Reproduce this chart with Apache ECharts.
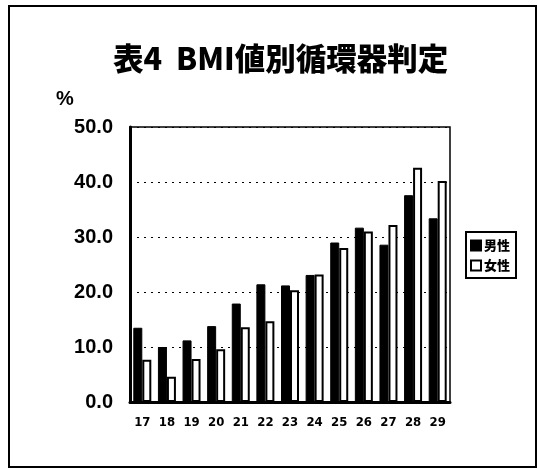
<!DOCTYPE html>
<html>
<head>
<meta charset="utf-8">
<script src="https://cdn.jsdelivr.net/npm/echarts@6/dist/echarts.min.js"></script>
<style>
  html, body { margin: 0; padding: 0; background: #fff; }
  #chart { width: 538px; height: 469px; }
</style>
</head>
<body>
<div id="chart"></div>
<script>
// BMI categories and percentage of cardiovascular findings by sex
const bmiLabels = ['17', '18', '19', '20', '21', '22', '23', '24', '25', '26', '27', '28', '29'];
const maleValues = [13.5, 10.0, 11.2, 13.8, 17.9, 21.4, 21.2, 23.1, 29.0, 31.7, 28.6, 37.6, 33.4];
const femaleValues = [7.7, 4.6, 7.8, 9.6, 13.6, 14.7, 20.3, 23.2, 28.0, 31.0, 32.2, 42.6, 40.2];
const yTicks = [0, 10, 20, 30, 40, 50];

const chart = echarts.init(document.getElementById('chart'), null, { renderer: 'canvas' });

const jp = '"Noto Sans CJK JP", sans-serif';
const num = '"Liberation Sans", Arial, sans-serif';

chart.setOption({
  animation: false,
  backgroundColor: '#fff',
  title: {
    text: '表4  BMI値別循環器判定',
    left: 108,
    top: 38,
    textStyle: { fontFamily: jp, fontWeight: 900, fontSize: 30.5, color: '#000' }
  },
  graphic: [
    {
      type: 'rect',
      shape: { x: 9, y: 6, width: 527, height: 461 },
      style: { fill: 'none', stroke: '#000', lineWidth: 2 }
    },
    {
      type: 'text',
      left: 56,
      top: 89,
      style: { text: '%', fontFamily: num, fontWeight: 'bold', fontSize: 20, fill: '#000' }
    }
  ],
  legend: {
    orient: 'vertical',
    left: 466,
    top: 232,
    icon: 'rect',
    itemWidth: 10,
    itemHeight: 10,
    itemGap: 7,
    padding: [7, 6, 6, 4],
    borderColor: '#000',
    borderWidth: 2,
    textStyle: { fontFamily: jp, fontWeight: 900, fontSize: 13, color: '#000', padding: [0, 0, 0, -2] },
    data: ['男性', '女性']
  },
  grid: {
    left: 130,
    right: 88,
    top: 127,
    bottom: 67,
    show: true,
    borderColor: '#000',
    borderWidth: 1.5
  },
  xAxis: {
    type: 'category',
    data: bmiLabels,
    axisLine: { lineStyle: { color: '#000', width: 3 } },
    axisTick: { show: false },
    axisLabel: {
      margin: 14,
      fontFamily: '"DejaVu Sans Condensed", sans-serif',
      fontWeight: 'bold',
      fontSize: 13,
      color: '#000'
    }
  },
  yAxis: {
    type: 'value',
    min: yTicks[0],
    max: yTicks[yTicks.length - 1],
    interval: 10,
    axisLine: { show: true, lineStyle: { color: '#000', width: 3 } },
    axisTick: { show: false },
    splitLine: { lineStyle: { color: '#000', type: [2, 5], width: 1 } },
    axisLabel: {
      margin: 17,
      fontFamily: num,
      fontWeight: 'bold',
      fontSize: 20,
      color: '#000',
      formatter: v => v.toFixed(1)
    }
  },
  series: [
    {
      name: '男性',
      type: 'bar',
      data: maleValues,
      barWidth: 9,
      barGap: '0%',
      itemStyle: { color: '#000', borderColor: '#000', borderWidth: 1 }
    },
    {
      name: '女性',
      type: 'bar',
      data: femaleValues,
      barWidth: 9,
      barGap: '0%',
      itemStyle: { color: '#fff', borderColor: '#000', borderWidth: 2 }
    }
  ]
});
</script>
</body>
</html>
